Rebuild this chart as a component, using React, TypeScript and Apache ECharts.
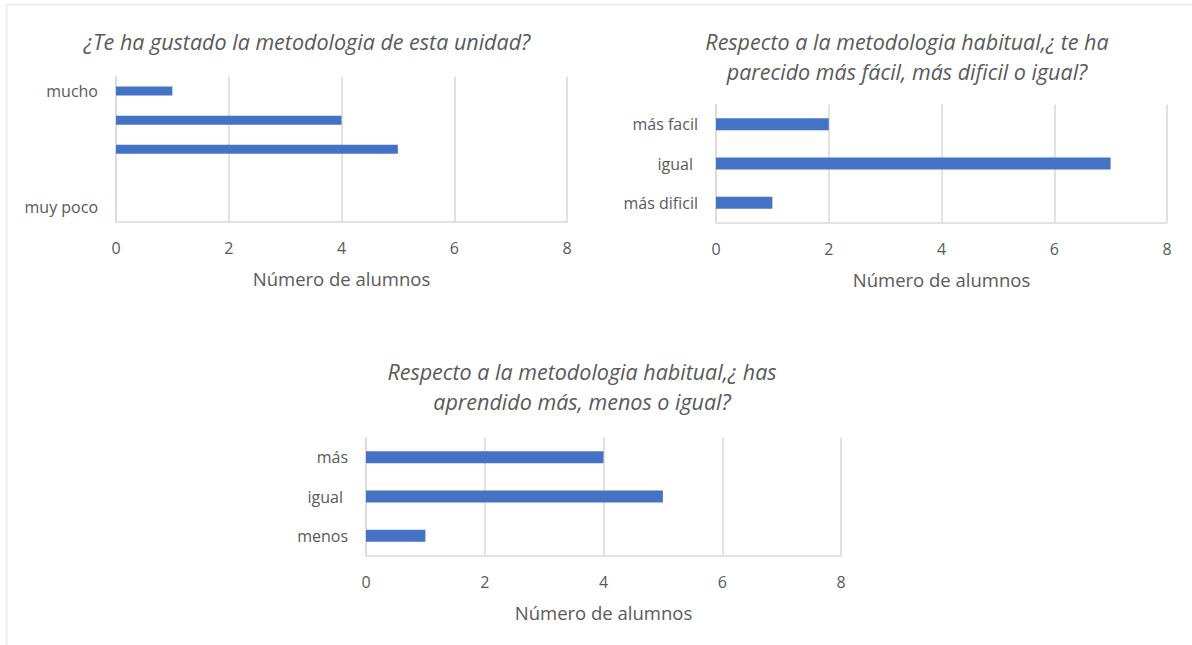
import React, { useEffect, useRef } from "react";
import * as echarts from "echarts";

const cats1 = ["mucho", "bastante", "normal", "poco", "muy poco"];
const vals1 = [1, 4, 5, 0, 0];
const cats2 = ["más facil", "igual", "más dificil"];
const vals2 = [2, 7, 1];
const cats3 = ["más", "igual", "menos"];
const vals3 = [4, 5, 1];
const title1 = "¿Te ha gustado la metodologia de esta unidad?";
const title2 = "Respecto a la metodologia habitual,¿ te ha\nparecido más fácil, más dificil o igual?";
const title3 = "Respecto a la metodologia habitual,¿ has\naprendido más, menos o igual?";
const axisName = "Número de alumnos";

const FONT = "Open Sans";
const GRAY = "#595959";
const GRID = "#D9D9D9";
const BAR = "#4472C4";

export default function App() {
  const ref = useRef<HTMLDivElement>(null);
  useEffect(() => {
    if (!ref.current) return;
    const chart = echarts.init(ref.current, undefined, { renderer: "svg" });
    const grids = [
      { left: 116, top: 76.5, width: 451, height: 145.5 },
      { left: 716, top: 104.5, width: 451, height: 118 },
      { left: 366, top: 437.5, width: 475, height: 118 },
    ];
    const xAxis = [0, 1, 2].map((i) => ({
      type: "value",
      gridIndex: i,
      min: 0,
      max: 8,
      interval: 2,
      name: axisName,
      nameLocation: "middle",
      nameGap: 47,
      nameTextStyle: { color: GRAY, fontSize: 18.5, fontFamily: FONT },
      axisLine: { show: true, lineStyle: { color: GRID, width: 1.5 } },
      axisTick: { show: false },
      axisLabel: { color: GRAY, fontSize: 16, fontFamily: FONT, margin: 18 },
      splitLine: { show: true, lineStyle: { color: GRID, width: 1.5 } },
    }));
    const catData = [cats1, cats2, cats3];
    const yAxis = [0, 1, 2].map((i) => ({
      type: "category",
      gridIndex: i,
      inverse: true,
      data: catData[i],
      axisLine: { show: true, lineStyle: { color: GRID, width: 1.5 } },
      axisTick: { show: false },
      axisLabel: {
        color: GRAY,
        fontSize: 16,
        fontFamily: FONT,
        margin: 18,
        interval: i === 0 ? 3 : 0,
        formatter: (v: string) => (v === "igual" ? "{p|igual}" : v),
        rich: { p: { color: GRAY, fontSize: 16, fontFamily: FONT, padding: [0, 5, 0, 0] } },
      },
      splitLine: { show: false },
    }));
    const valData = [vals1, vals2, vals3];
    const series = [0, 1, 2].map((i) => ({
      type: "bar",
      xAxisIndex: i,
      yAxisIndex: i,
      data: valData[i],
      barWidth: i === 0 ? 9 : 12,
      itemStyle: { color: BAR },
      silent: true,
    }));
    const tStyle = { color: GRAY, fontSize: 21.5, fontStyle: "italic", fontFamily: FONT, fontWeight: "normal", lineHeight: 30 };
    chart.setOption({
      animation: false,
      title: [
        { text: title1, left: 302, top: 21, textAlign: "center", textStyle: tStyle },
        { text: title2, left: 902, top: 21, textAlign: "center", textStyle: tStyle },
        { text: title3, left: 577, top: 351, textAlign: "center", textStyle: tStyle },
      ],
      grid: grids,
      xAxis,
      yAxis,
      series,
      graphic: [
        { type: "line", shape: { x1: 6, y1: 4.5, x2: 1192, y2: 4.5 }, style: { stroke: "#EEEEEE", lineWidth: 2 } },
        { type: "line", shape: { x1: 6.5, y1: 4, x2: 6.5, y2: 645 }, style: { stroke: "#EEEEEE", lineWidth: 2 } },
      ],
    });
    return () => chart.dispose();
  }, []);
  return (
    <div
      ref={ref}
      style={{ position: "fixed", left: 0, top: 0, width: 1192, height: 645, background: "#fff" }}
    />
  );
}
